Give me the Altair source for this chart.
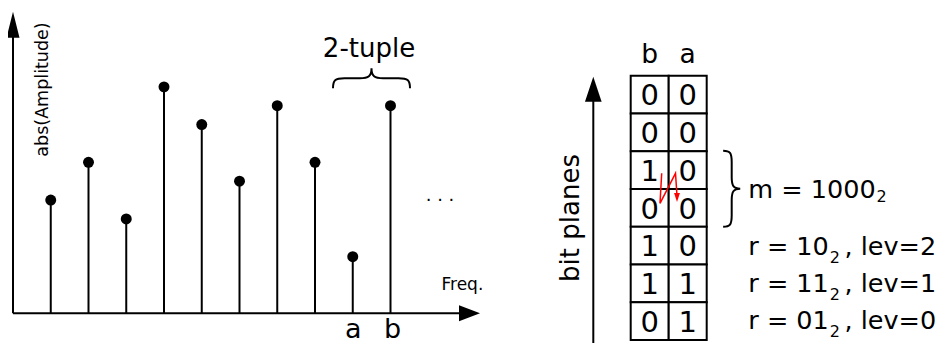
import altair as alt
import pandas as pd

# ---------------- data ----------------
freq_index = [1, 2, 3, 4, 5, 6, 7, 8, 9, 10]
amplitude = [6, 8, 5, 12, 10, 7, 11, 8, 3, 11]
tuple_names = ["a", "b"]
tuple_freq = [9, 10]
column_names = ["b", "a"]
bits_b = [0, 0, 1, 0, 1, 1, 0]
bits_a = [0, 0, 0, 0, 0, 1, 1]
m_bits = "1000"
r_bits = ["10", "11", "01"]
r_levels = [2, 1, 0]

# ---------------- layout (pixels) ----------------
W, H = 930, 335
OX, OY = 8, 8
AX0, AY0 = 13.0, 313.3          # origin of the spectrum axes
STEP, UNIT = 37.75, 18.87       # px per frequency bin / amplitude level
TX, TY, CW, RH = 630.7, 75.8, 38.0, 37.75   # bit-plane table
FONT = "DejaVu Sans"
ANN = 25.5                      # annotation font size

xs = alt.Scale(domain=[OX, OX + W], nice=False, zero=False)
ys = alt.Scale(domain=[OY, OY + H], nice=False, zero=False, reverse=True)


def enc(two=False):
    e = dict(x=alt.X("x:Q", scale=xs, axis=None), y=alt.Y("y:Q", scale=ys, axis=None))
    if two:
        e["x2"] = alt.X2("x2:Q")
        e["y2"] = alt.Y2("y2:Q")
    return e


def text_layer(rows, size, align="center", angle=0, color="black"):
    df = pd.DataFrame(rows, columns=["t", "x", "y"])
    return alt.Chart(df).mark_text(font=FONT, fontSize=size, align=align, angle=angle,
                                   baseline="alphabetic", color=color).encode(text="t:N", **enc())


def shape_layer(rows, path, size, angle=0, filled=True, color="black", sw=2):
    df = pd.DataFrame(rows, columns=["x", "y"])
    return alt.Chart(df).mark_point(shape=path, size=size, angle=angle, filled=filled,
                                    color=color, strokeWidth=sw, opacity=1).encode(**enc())


layers = []

# spectrum stems and dots
spec = pd.DataFrame({"f": freq_index, "a": amplitude})
spec["x"] = AX0 + STEP * spec["f"]
spec["y"] = AY0 - UNIT * spec["a"]
spec["x2"] = spec["x"]
spec["y2"] = AY0
layers.append(alt.Chart(spec).mark_rule(strokeWidth=2, color="black").encode(**enc(True)))
layers.append(alt.Chart(spec).mark_circle(size=120, color="black", opacity=1).encode(**enc()))

# axis lines
axes = pd.DataFrame([
    [AX0, AY0, AX0, 37.0],
    [AX0, AY0, 459.0, AY0],
    [593.3, 345.0, 593.3, 100.0],
], columns=["x", "y", "x2", "y2"])
layers.append(alt.Chart(axes).mark_rule(strokeWidth=2, color="black").encode(**enc(True)))

# arrow heads
layers.append(shape_layer([[AX0, 24.7]], "M0,-1L0.5,1L-0.5,1Z", 676))
layers.append(shape_layer([[469.5, AY0]], "M1,0L-1,-0.76L-1,0.76Z", 441))
layers.append(shape_layer([[593.3, 89.2]], "M0,-1L0.667,1L-0.667,1Z", 625))


def brace(d):
    return (f"M-1,{d} C-1,{d*0.2:.3f} -0.95,0 -0.7,0 L-0.3,0 C-0.08,0 0,{-d*0.2:.3f} 0,{-d} "
            f"C0,{-d*0.2:.3f} 0.08,0 0.3,0 L0.7,0 C0.95,0 1,{d*0.2:.3f} 1,{d}")


layers.append(shape_layer([[371.5, 78.3]], brace(0.26), 77 ** 2, filled=False))
layers.append(shape_layer([[731.7, 188.7]], brace(0.225), 76 ** 2, angle=90, filled=False))

# texts of the spectrum
layers.append(text_layer([["abs(Amplitude)", 48.0, 89.5]], 17.5, angle=270))
layers.append(text_layer([["2-tuple", 369.0, 56.7]], 26))
layers.append(text_layer([[". . .", 440.0, 201.0]], 18))
layers.append(text_layer([["Freq.", 441.5, 290.0]], 17, align="left"))
layers.append(text_layer([[n, AX0 + STEP * f + (2 if n == "b" else 0.5), 337.5]
                          for n, f in zip(tuple_names, tuple_freq)], 27))

# bit planes table
cells = []
for c, col in enumerate([bits_b, bits_a]):
    for r, v in enumerate(col):
        cells.append([str(v), TX + CW * c, TY + RH * r, TX + CW * (c + 1), TY + RH * (r + 1)])
cell_df = pd.DataFrame(cells, columns=["t", "x", "y", "x2", "y2"])
layers.append(alt.Chart(cell_df).mark_rect(fill="white", stroke="black", strokeWidth=2).encode(**enc(True)))
cell_df["cx"] = (cell_df["x"] + cell_df["x2"]) / 2
cell_df["cy"] = (cell_df["y"] + cell_df["y2"]) / 2 + 10.6
layers.append(text_layer(cell_df[["t", "cx", "cy"]].values.tolist(), 29))
layers.append(text_layer([[n, TX + CW * (i + 0.5), 63.3] for i, n in enumerate(column_names)], 26.5))
layers.append(text_layer([["bit planes", 579.0, 218.0]], 26, angle=270))

# red zig-zag scan
zz = pd.DataFrame({"x": [661.7, 660.0, 675.5, 677.0], "y": [173.3, 203.3, 173.3, 196.0], "o": [0, 1, 2, 3]})
layers.append(alt.Chart(zz).mark_line(color="red", strokeWidth=1.5).encode(order="o:Q", **enc()))
layers.append(shape_layer([[677.0, 197.5]], "M0,1L0.65,-1L-0.65,-1Z", 81, color="red"))

# right-hand annotations (DejaVu Sans advance widths in em)
EM = {"m": 0.974, " ": 0.318, "=": 0.838, "r": 0.411, "0": 0.636, "1": 0.636}


def width(s):
    return sum(EM[ch] for ch in s) * ANN


X_ANN = 748.3
m_text = "m = " + m_bits
layers.append(text_layer([[m_text, X_ANN, 198.3]], ANN, align="left"))
layers.append(text_layer([["2", X_ANN + width(m_text) + 1.0, 202.0]], 16, align="left"))
row_base = [255.0, 292.0, 329.0]
r_texts = ["r = " + b for b in r_bits]
layers.append(text_layer([[t, X_ANN, y] for t, y in zip(r_texts, row_base)], ANN, align="left"))
layers.append(text_layer([["2", X_ANN + width(t) + 1.0, y + 8.3] for t, y in zip(r_texts, row_base)],
                         16, align="left"))
layers.append(text_layer([[f", lev={lv}", 844.5, y] for lv, y in zip(r_levels, row_base)], ANN, align="left"))

chart = alt.layer(*layers).properties(
    width=W, height=H, padding=0, autosize=alt.AutoSizeParams(type="none")
).configure_view(stroke=None)

chart.save("out.html", embed_options={"renderer": "svg", "actions": False})
